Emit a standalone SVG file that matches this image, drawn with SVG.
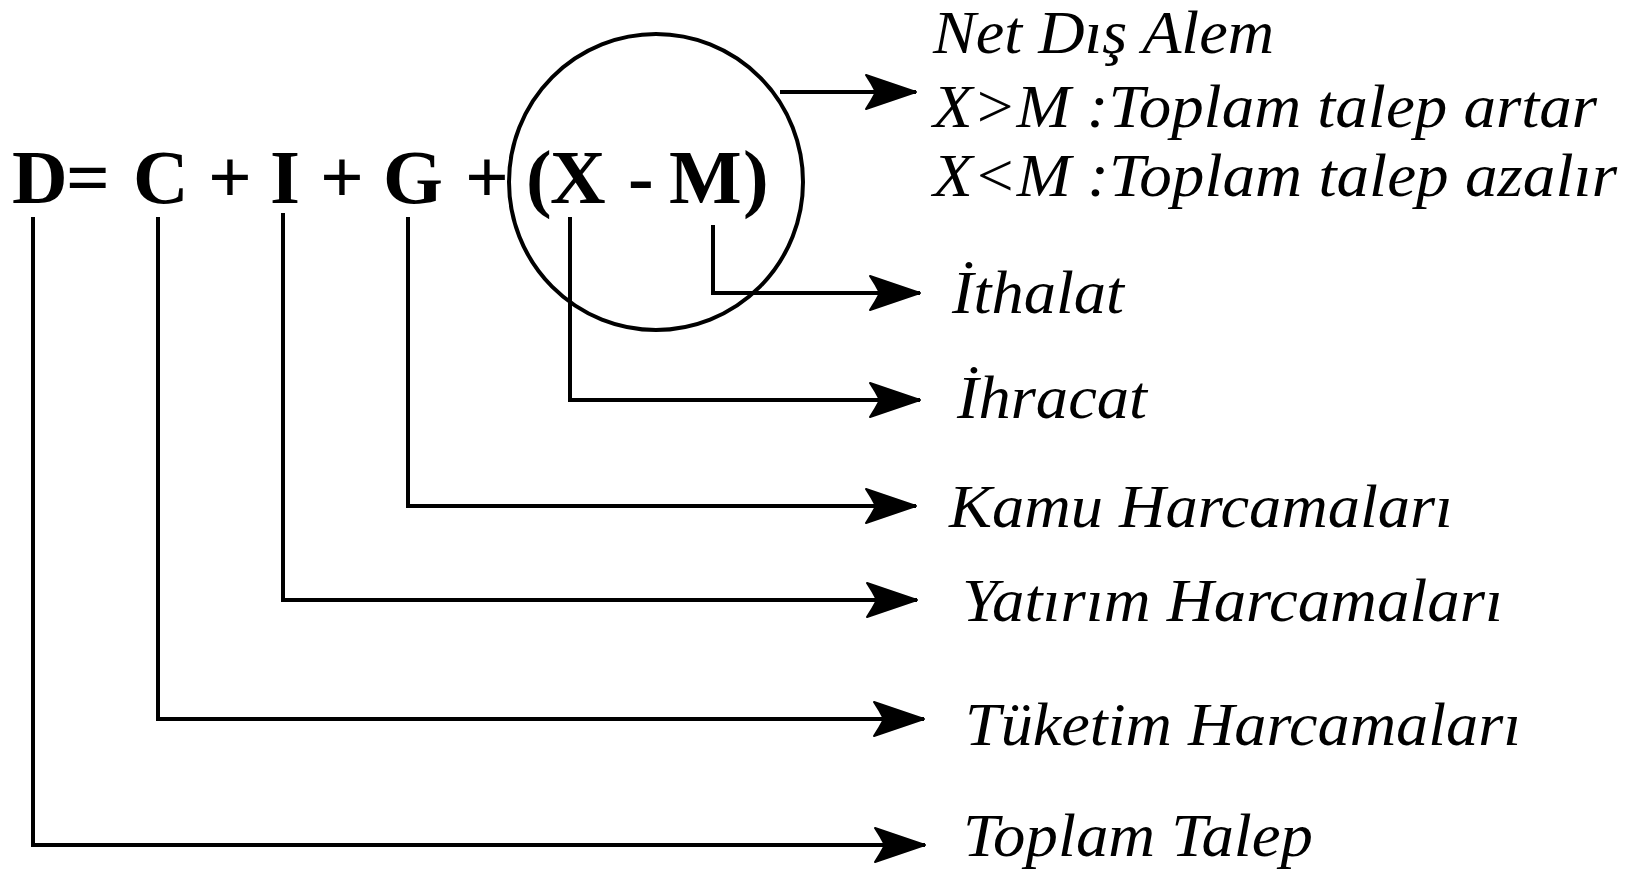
<svg xmlns="http://www.w3.org/2000/svg" width="1631" height="871" viewBox="0 0 1631 871">
<style>
.eq{font-family:"Liberation Serif","Times New Roman",serif;font-weight:bold;font-size:77px;fill:#000}
.lb{font-family:"Liberation Serif","Times New Roman",serif;font-style:italic;font-size:62px;fill:#000}
.cn{fill:none;stroke:#000;stroke-width:4;stroke-linejoin:miter}
</style>
<defs>
<marker id="ah" markerUnits="userSpaceOnUse" markerWidth="60" markerHeight="40" viewBox="-52 -20 54 40" refX="0" refY="0" orient="auto">
<path d="M0,0 L-50,-17 Q-44,-8 -40,0 Q-44,8 -50,17 Z" fill="#000" stroke="#000" stroke-width="2" stroke-linejoin="round"/>
</marker>
</defs>
<rect width="1631" height="871" fill="#fff"/>
<g id="equation">
<text class="eq" y="203"><tspan x="12">D</tspan><tspan x="66">=</tspan><tspan x="133">C</tspan><tspan x="208">+</tspan><tspan x="270">I</tspan><tspan x="320">+</tspan><tspan x="383">G</tspan><tspan x="465">+</tspan><tspan x="526">(</tspan><tspan x="550">X</tspan><tspan x="628">-</tspan><tspan x="669">M</tspan><tspan x="743">)</tspan></text>
</g>
<g id="circle">
<ellipse cx="656" cy="182" rx="147" ry="148" fill="none" stroke="#000" stroke-width="4"/>
</g>
<g id="connectors">
<path class="cn" d="M780,92 H916" marker-end="url(#ah)"/>
<path class="cn" d="M713,225 V293 H920" marker-end="url(#ah)"/>
<path class="cn" d="M570,217 V400 H920" marker-end="url(#ah)"/>
<path class="cn" d="M408,217 V506 H916" marker-end="url(#ah)"/>
<path class="cn" d="M283,213 V600 H917" marker-end="url(#ah)"/>
<path class="cn" d="M158,217 V719 H924" marker-end="url(#ah)"/>
<path class="cn" d="M33,217 V845 H925" marker-end="url(#ah)"/>
</g>
<g id="label-net">
<text class="lb" x="933" y="53" textLength="341" lengthAdjust="spacingAndGlyphs">Net Dış Alem</text>
<text class="lb" x="933" y="127" textLength="664" lengthAdjust="spacingAndGlyphs">X&gt;M :Toplam talep artar</text>
<text class="lb" x="933" y="196" textLength="684" lengthAdjust="spacingAndGlyphs">X&lt;M :Toplam talep azalır</text>
</g>
<g id="label-ithalat"><text class="lb" x="952" y="313" textLength="172" lengthAdjust="spacingAndGlyphs">İthalat</text></g>
<g id="label-ihracat"><text class="lb" x="957" y="418" textLength="190" lengthAdjust="spacingAndGlyphs">İhracat</text></g>
<g id="label-kamu"><text class="lb" x="949" y="527" textLength="504" lengthAdjust="spacingAndGlyphs">Kamu Harcamaları</text></g>
<g id="label-yatirim"><text class="lb" x="962" y="621" textLength="541" lengthAdjust="spacingAndGlyphs">Yatırım Harcamaları</text></g>
<g id="label-tuketim"><text class="lb" x="965" y="745" textLength="556" lengthAdjust="spacingAndGlyphs">Tüketim Harcamaları</text></g>
<g id="label-toplam"><text class="lb" x="963" y="856" textLength="350" lengthAdjust="spacingAndGlyphs">Toplam Talep</text></g>
</svg>
